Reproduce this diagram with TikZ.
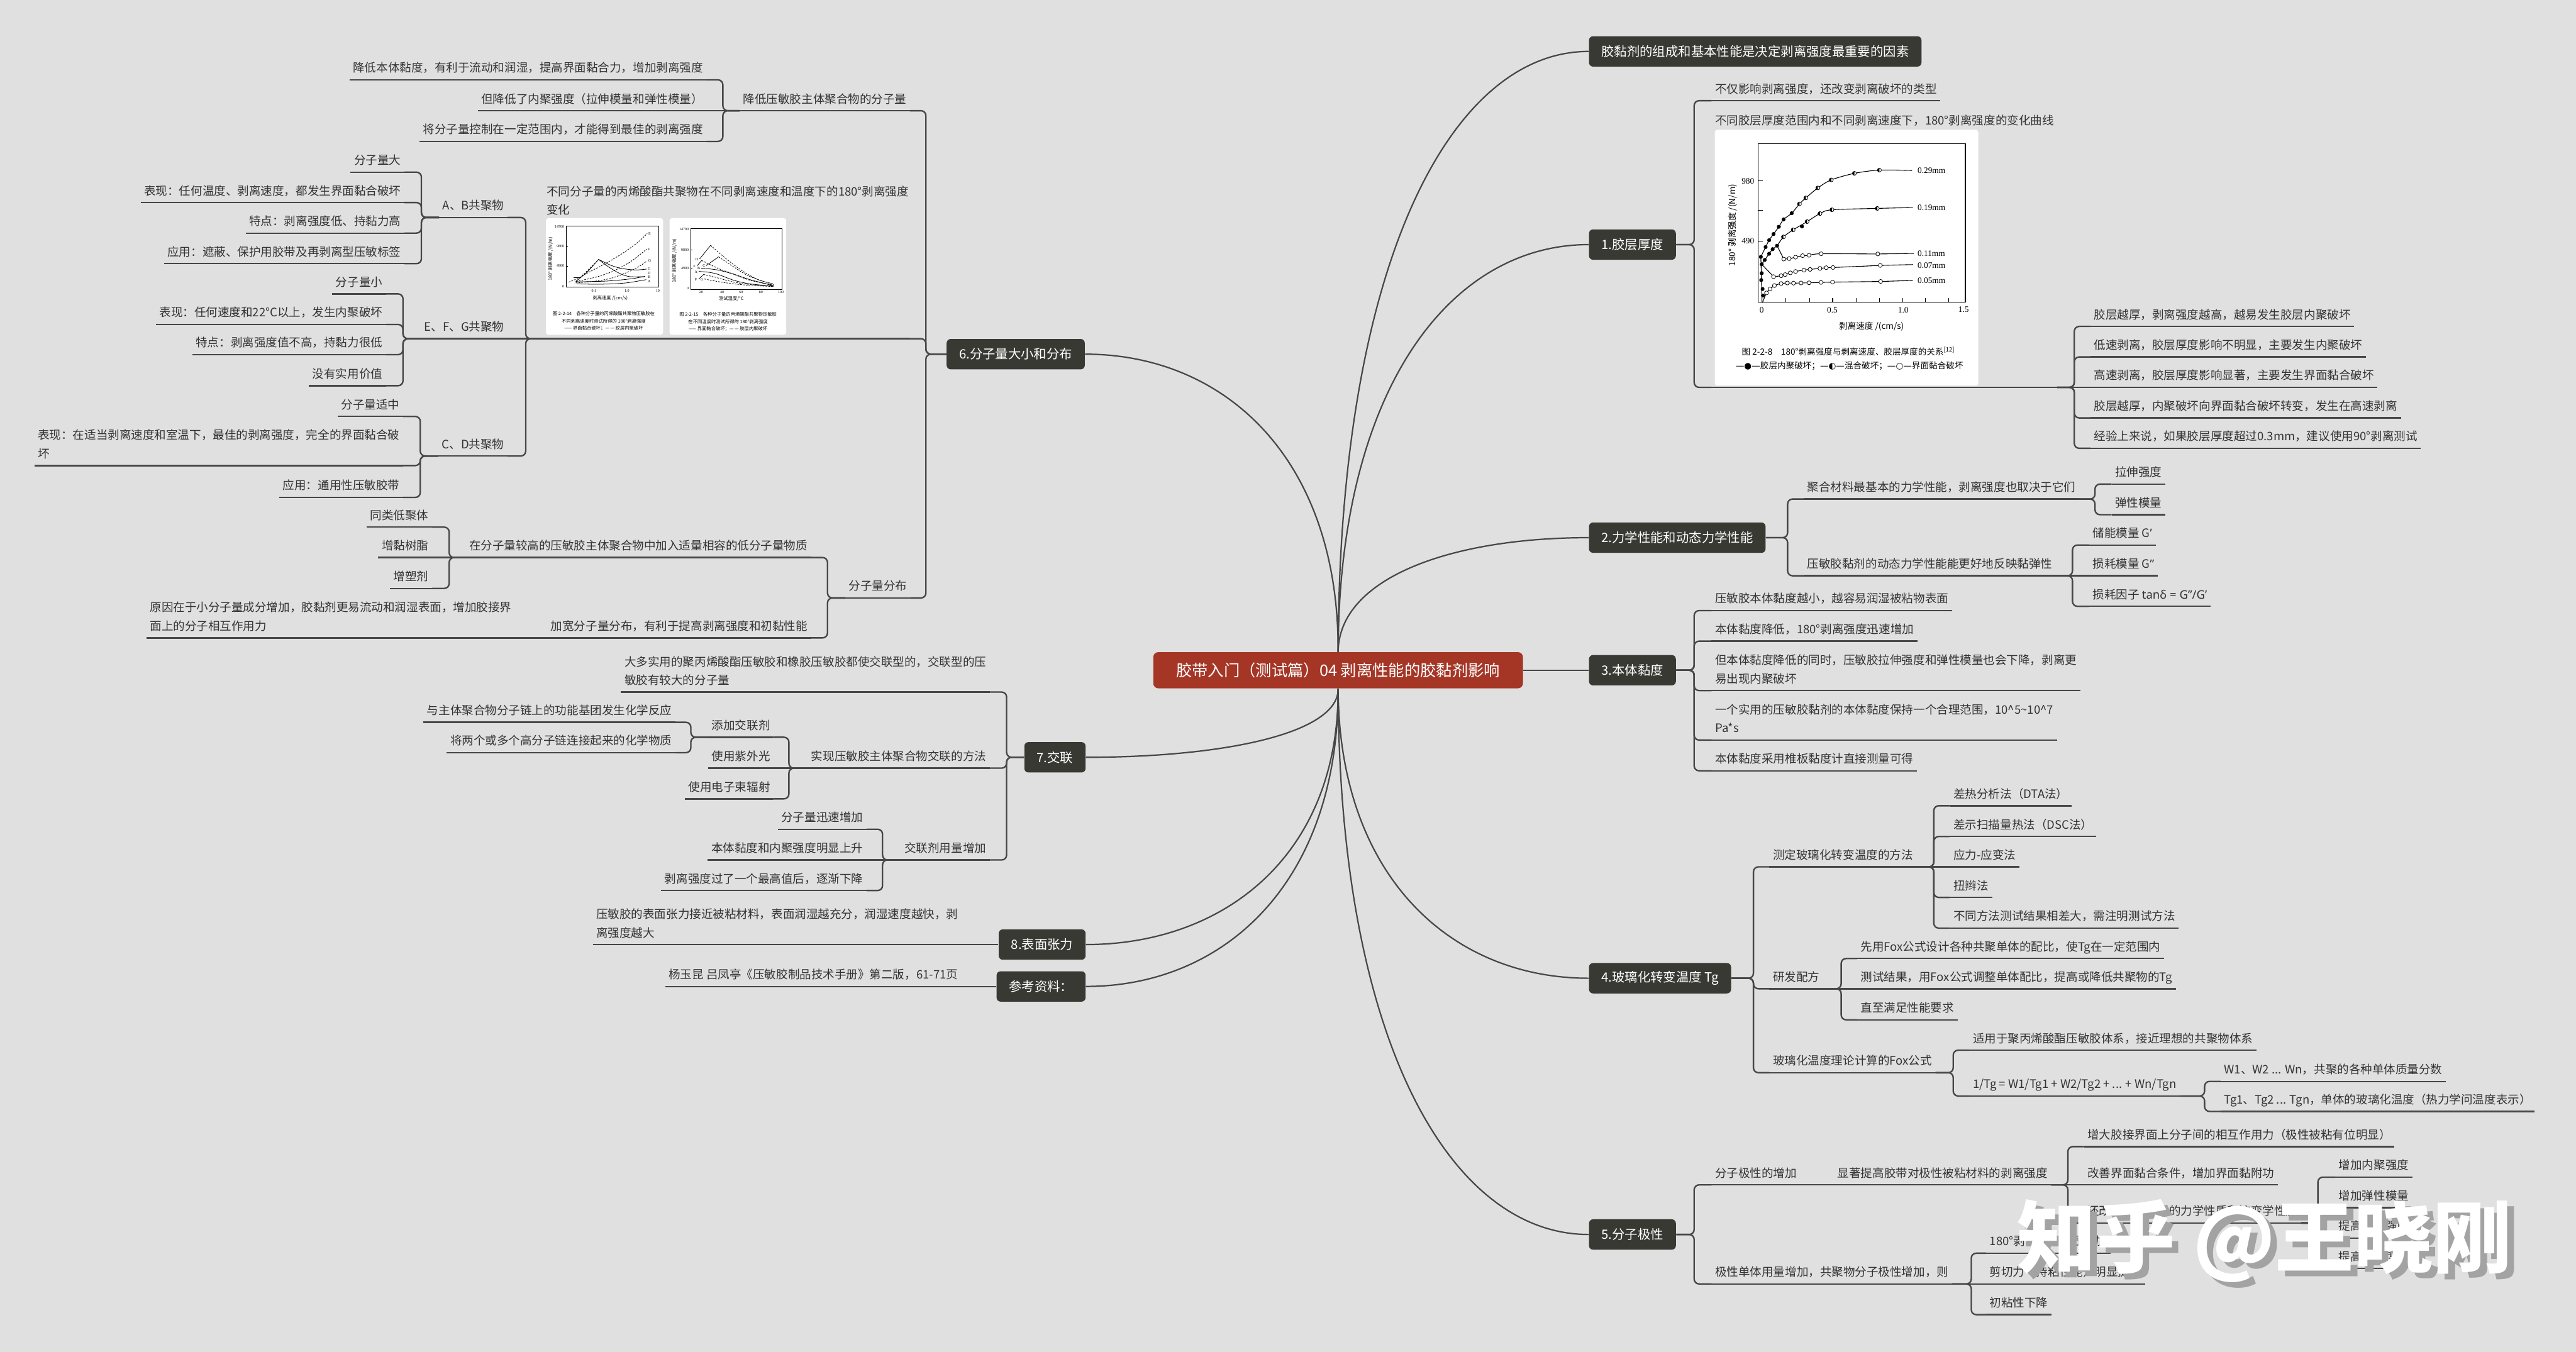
\documentclass[tikz,border=0pt]{standalone}
\usepackage{fontspec}
\setmainfont{Noto Sans CJK SC}
\newfontfamily\lat{Noto Sans}
\newfontfamily\sym{DejaVu Sans}
\newfontfamily\chartserif{Liberation Serif}
\definecolor{bgcol}{HTML}{E0E0E0}
\definecolor{inkgray}{HTML}{333333}
\definecolor{linegray}{HTML}{474747}
\definecolor{boxdark}{HTML}{393934}
\definecolor{rootred}{HTML}{A53626}
\definecolor{wmshade}{HTML}{A3A3A3}
\tikzset{topictext/.style={font=\fontsize{7.1}{11.3}\selectfont, text=inkgray, inner xsep=2pt, inner ysep=2.6pt, align=left},
 uline/.style={draw=linegray, line width=0.9pt},
 topic/.style={topictext, execute at end node={\rule[-1.8pt]{0pt}{1.8pt}}, append after command={(\tikzlastnode.south west) edge[uline] (\tikzlastnode.south east)}},
 rtopic/.style={topic, anchor=south west}, ltopic/.style={topic, anchor=south east},
 imgtopic/.style={inner sep=0pt, append after command={(\tikzlastnode.south west) edge[uline] (\tikzlastnode.south east)}},
 conn/.style={draw=linegray, line width=0.9pt, rounded corners=3pt},
 branch/.style={draw=linegray, line width=0.85pt},
 mainbox/.style={fill=boxdark, text=white, rounded corners=2.5pt, font=\fontsize{7.8}{9}\selectfont, inner xsep=7.6pt, inner ysep=0pt, minimum height=18.5pt},
 rootbox/.style={fill=rootred, text=white, rounded corners=3pt, font=\fontsize{9.7}{11}\selectfont, minimum width=225pt, minimum height=22pt, inner sep=0pt},
 pln/.style={draw=black, line width=0.42pt}, sln/.style={draw=black, line width=0.3pt}, sdash/.style={sln, dash pattern=on 1pt off 0.7pt},
 cnum/.style={font=\chartserif\fontsize{5.1}{6}\selectfont, inner sep=0.5pt}, ctxt/.style={font=\fontsize{5.2}{6}\selectfont, inner sep=0.5pt},
 snum/.style={font=\chartserif\fontsize{2.3}{3}\selectfont, inner sep=0.3pt}, stxt/.style={font=\fontsize{2.8}{3.2}\selectfont, inner sep=0.3pt},
 wmark/.style={font=\fontsize{48}{50}\selectfont\bfseries, inner sep=0pt}}
\begin{document}
\begin{tikzpicture}[x=1pt,y=-1pt]
\useasboundingbox (0,0) rectangle (1568,823);
\fill[bgcol] (0,0) rectangle (1568,823);
% centre and main branches
\node[rootbox] (root) at (814.5,408) {胶带入门（测试篇）04 剥离性能的胶黏剂影响};
\node[mainbox, anchor=west] (b0) at (967,31.3) {胶黏剂的组成和基本性能是决定剥离强度最重要的因素};
\node[mainbox, anchor=west] (b1) at (967,148.9) {1.胶层厚度};
\node[mainbox, anchor=west] (b2) at (967,327.3) {2.力学性能和动态力学性能};
\node[mainbox, anchor=west] (b3) at (967,408) {3.本体黏度};
\node[mainbox, anchor=west] (b4) at (967,595.5) {4.玻璃化转变温度 Tg};
\node[mainbox, anchor=west] (b5) at (967,751.5) {5.分子极性};
\node[mainbox, anchor=east] (b6) at (660.5,215.6) {6.分子量大小和分布};
\node[mainbox, anchor=east] (b7) at (661,461) {7.交联};
\node[mainbox, anchor=east] (b8) at (661,575) {8.表面张力};
\node[mainbox, anchor=east] (bref) at (661,600.5) {参考资料：};
\draw[branch] (root.north) .. controls (815,159.3) and (883.4,31.3) .. (b0.west);
\draw[branch] (root.north) .. controls (815,235.7) and (883.4,148.9) .. (b1.west);
\draw[branch] (root.north) .. controls (815,351.7) and (883.4,327.3) .. (b2.west);
\draw[branch] (root.east) -- (b3.west);
\draw[branch] (root.south) .. controls (815,533.7) and (883.4,595.5) .. (b4.west);
\draw[branch] (root.south) .. controls (815,635.1) and (883.4,751.5) .. (b5.west);
\draw[branch] (root.north) .. controls (815,279.1) and (745.5,215.6) .. (b6.east);
\draw[branch] (root.south) .. controls (815,446.3) and (745.5,461) .. (b7.east);
\draw[branch] (root.south) .. controls (815,520.4) and (745.5,575) .. (b8.east);
\draw[branch] (root.south) .. controls (815,537) and (745.5,600.5) .. (bref.east);
% bracket columns
\coordinate (k1) at (1031.2,0); \coordinate (k12) at (1262.6,0); \coordinate (k2) at (1088.1,0);
\coordinate (k21) at (1275.2,0); \coordinate (k22) at (1261.5,0); \coordinate (k3) at (1031.2,0);
\coordinate (k4) at (1067.3,0); \coordinate (k41) at (1177.1,0); \coordinate (k42) at (1120.7,0);
\coordinate (k43) at (1188.9,0); \coordinate (k432) at (1341.9,0); \coordinate (k5) at (1031.2,0);
\coordinate (k511) at (1258.7,0); \coordinate (k5113) at (1410.9,0); \coordinate (k52) at (1199.9,0);
\coordinate (k6) at (563.6,0); \coordinate (k61) at (440,0); \coordinate (k62) at (320,0);
\coordinate (k621) at (256.5,0); \coordinate (k622) at (245.3,0); \coordinate (k623) at (255.8,0);
\coordinate (k63) at (503.7,0); \coordinate (k631) at (273.4,0); \coordinate (k7) at (612.7,0);
\coordinate (k72) at (480.2,0); \coordinate (k721) at (420.5,0); \coordinate (k73) at (537.2,0);
% 1
\node[rtopic] (t11) at (1041.8,61.3) {不仅影响剥离强度，还改变剥离破坏的类型};
\node[imgtopic, anchor=south west, minimum width=209.9pt, minimum height=169.8pt] (t12) at (1041.8,235.8) {};
\node[topictext, anchor=base west] (t12l) at (1041.8,76) {不同胶层厚度范围内和不同剥离速度下，180°剥离强度的变化曲线};
\node[rtopic] (t121) at (1272.4,198.7) {胶层越厚，剥离强度越高，越易发生胶层内聚破坏};
\node[rtopic] (t122) at (1272.4,217.3) {低速剥离，胶层厚度影响不明显，主要发生内聚破坏};
\node[rtopic] (t123) at (1272.4,235.8) {高速剥离，胶层厚度影响显著，主要发生界面黏合破坏};
\node[rtopic] (t124) at (1272.4,254.4) {胶层越厚，内聚破坏向界面黏合破坏转变，发生在高速剥离};
\node[rtopic] (t125) at (1272.4,272.9) {经验上来说，如果胶层厚度超过0.3mm，建议使用90°剥离测试};
% 2
\node[rtopic] (t21) at (1097.9,303.8) {聚合材料最基本的力学性能，剥离强度也取决于它们};
\node[rtopic] (t211) at (1285.3,294.7) {拉伸强度};
\node[rtopic] (t212) at (1285.3,313.3) {弹性模量};
\node[rtopic] (t22) at (1097.9,350.5) {压敏胶黏剂的动态力学性能能更好地反映黏弹性};
\node[rtopic] (t221) at (1271.6,331.8) {储能模量 G{\lat ’}};
\node[rtopic] (t222) at (1271.6,350.5) {损耗模量 G{\lat ”}};
\node[rtopic] (t223) at (1271.6,369.1) {损耗因子 {\lat tanδ = G”/G’}};
% 3
\node[rtopic] (t31) at (1041.8,371.7) {压敏胶本体黏度越小，越容易润湿被粘物表面};
\node[rtopic] (t32) at (1041.8,390.3) {本体黏度降低，180°剥离强度迅速增加};
\node[rtopic] (t33) at (1041.8,420.4) {但本体黏度降低的同时，压敏胶拉伸强度和弹性模量也会下降，剥离更\\易出现内聚破坏};
\node[rtopic] (t34) at (1041.8,450.5) {一个实用的压敏胶黏剂的本体黏度保持一个合理范围，10\textasciicircum 5\textasciitilde 10\textasciicircum 7\\Pa*s};
\node[rtopic] (t35) at (1041.8,469.2) {本体黏度采用椎板黏度计直接测量可得};
% 4
\node[rtopic] (t41) at (1077,527.7) {测定玻璃化转变温度的方法};
\node[rtopic] (t411) at (1186.9,490.5) {差热分析法（DTA法）};
\node[rtopic] (t412) at (1186.9,509.2) {差示扫描量热法（DSC法）};
\node[rtopic] (t413) at (1186.9,527.7) {应力-应变法};
\node[rtopic] (t414) at (1186.9,546.3) {扭辫法};
\node[rtopic] (t415) at (1186.9,565) {不同方法测试结果相差大，需注明测试方法};
\node[rtopic] (t42) at (1077,601.9) {研发配方};
\node[rtopic] (t421) at (1130.4,583.5) {先用Fox公式设计各种共聚单体的配比，使Tg在一定范围内};
\node[rtopic] (t422) at (1130.4,601.9) {测试结果，用Fox公式调整单体配比，提高或降低共聚物的Tg};
\node[rtopic] (t423) at (1130.4,620.8) {直至满足性能要求};
\node[rtopic] (t43) at (1077,653) {玻璃化温度理论计算的Fox公式};
\node[rtopic] (t431) at (1198.7,639.3) {适用于聚丙烯酸酯压敏胶体系，接近理想的共聚物体系};
\node[rtopic] (t432) at (1198.7,667.2) {1/Tg = W1/Tg1 + W2/Tg2 + ... + Wn/Tgn};
\node[rtopic] (t4321) at (1351.6,658.3) {W1、W2 ... Wn，共聚的各种单体质量分数};
\node[rtopic] (t4322) at (1351.6,676.6) {Tg1、Tg2 ... Tgn，单体的玻璃化温度（热力学问温度表示）};
% 5
\node[rtopic] (t51) at (1041.8,721.3) {分子极性的增加};
\node[rtopic] (t511) at (1116.3,721.3) {显著提高胶带对极性被粘材料的剥离强度};
\node[rtopic] (t5111) at (1268.5,698) {增大胶接界面上分子间的相互作用力（极性被粘有位明显）};
\node[rtopic] (t5112) at (1268.5,721.3) {改善界面黏合条件，增加界面黏附功};
\node[rtopic] (t5113) at (1268.5,744.5) {还改变压敏胶层的力学性质和流变学性质};
\node[rtopic] (t51131) at (1421.4,716.6) {增加内聚强度};
\node[rtopic] (t51132) at (1421.4,735.2) {增加弹性模量};
\node[rtopic] (t51133) at (1421.4,753.7) {提高剥离强度};
\node[rtopic] (t51134) at (1421.4,772.2) {提高持黏度};
\node[rtopic] (t52) at (1041.8,781.6) {极性单体用量增加，共聚物分子极性增加，则};
\node[rtopic] (t521) at (1208.9,762.9) {180°剥离强度明显增加};
\node[rtopic] (t522) at (1208.9,781.6) {剪切力（持粘性能）明显提高};
\node[rtopic] (t523) at (1208.9,800.3) {初粘性下降};
% 6
\node[ltopic] (t61) at (554,67.4) {降低压敏胶主体聚合物的分子量};
\node[ltopic] (t611) at (430.1,48.6) {降低本体黏度，有利于流动和润湿，提高界面黏合力，增加剥离强度};
\node[ltopic] (t612) at (430.1,67.4) {但降低了内聚强度（拉伸模量和弹性模量）};
\node[ltopic] (t613) at (430.1,86.1) {将分子量控制在一定范围内，才能得到最佳的剥离强度};
\node[imgtopic, anchor=south east, minimum width=223.4pt, minimum height=97pt] (t62) at (554,206.2) {};
\node[topictext, anchor=north west] (t62l) at (330.6,110) {\rule{0pt}{6.3pt}不同分子量的丙烯酸酯共聚物在不同剥离速度和温度下的180°剥离强度\\变化};
\node[ltopic] (t621) at (309,132.4) {A、B共聚物};
\node[ltopic] (t622) at (309,206.2) {E、F、G共聚物};
\node[ltopic] (t623) at (309,277.6) {C、D共聚物};
\node[ltopic] (t6211) at (246.2,104.8) {分子量大};
\node[ltopic] (t6212) at (246.2,123.3) {表现：任何温度、剥离速度，都发生界面黏合破坏};
\node[ltopic] (t6213) at (246.2,141.9) {特点：剥离强度低、持黏力高};
\node[ltopic] (t6214) at (246.2,160.5) {应用：遮蔽、保护用胶带及再剥离型压敏标签};
\node[ltopic] (t6221) at (235,178.9) {分子量小};
\node[ltopic] (t6222) at (235,197.5) {表现：任何速度和22°C以上，发生内聚破坏};
\node[ltopic] (t6223) at (235,215.9) {特点：剥离强度值不高，持黏力很低};
\node[ltopic] (t6224) at (235,234.8) {没有实用价值};
\node[ltopic] (t6231) at (245.4,253.5) {分子量适中};
\node[ltopic] (t6232) at (245.4,283.4) {表现：在适当剥离速度和室温下，最佳的剥离强度，完全的界面黏合破\\坏};
\node[ltopic] (t6233) at (245.4,302.8) {应用：通用性压敏胶带};
\node[ltopic] (t63) at (554.4,364) {分子量分布};
\node[ltopic] (t631) at (493.7,339.4) {在分子量较高的压敏胶主体聚合物中加入适量相容的低分子量物质};
\node[ltopic] (t6311) at (263,320.9) {同类低聚体};
\node[ltopic] (t6312) at (263,339.4) {增黏树脂};
\node[ltopic] (t6313) at (263,358.2) {增塑剂};
\node[ltopic] (t632) at (493.7,388.3) {加宽分子量分布，有利于提高剥离强度和初黏性能};
\node[ltopic] (t6321) at (313.6,388.3) {原因在于小分子量成分增加，胶黏剂更易流动和润湿表面，增加胶接界\\面上的分子相互作用力};
% 7, 8, ref
\node[ltopic] (t71) at (602.5,421.3) {大多实用的聚丙烯酸酯压敏胶和橡胶压敏胶都使交联型的，交联型的压\\敏胶有较大的分子量};
\node[ltopic] (t72) at (602.5,467.6) {实现压敏胶主体聚合物交联的方法};
\node[ltopic] (t721) at (471,448.8) {添加交联剂};
\node[ltopic] (t7211) at (411.2,439.7) {与主体聚合物分子链上的功能基团发生化学反应};
\node[ltopic] (t7212) at (411.2,458.2) {将两个或多个高分子链连接起来的化学物质};
\node[ltopic] (t722) at (471,467.6) {使用紫外光};
\node[ltopic] (t723) at (471,486.3) {使用电子束辐射};
\node[ltopic] (t73) at (602.5,523.5) {交联剂用量增加};
\node[ltopic] (t731) at (527.5,504.8) {分子量迅速增加};
\node[ltopic] (t732) at (527.5,523.5) {本体黏度和内聚强度明显上升};
\node[ltopic] (t733) at (527.5,542.1) {剥离强度过了一个最高值后，逐渐下降};
\node[ltopic] (t81) at (585.3,575) {压敏胶的表面张力接近被粘材料，表面润湿越充分，润湿速度越快，剥\\离强度越大};
\node[ltopic] (t91) at (585.3,600.5) {杨玉昆 吕凤亭《压敏胶制品技术手册》第二版，61-71页};
% connectors, right side
\foreach \c in {t11,t12} \draw[conn] (b1.east) -- (b1.east -| k1) |- (\c.south west);
\draw[conn] (t12.south east) -- (t123.south west);
\foreach \c in {t121,t122,t124,t125} \draw[conn] (t12.south east) -- (t12.south east -| k12) |- (\c.south west);
\foreach \c in {t21,t22} \draw[conn] (b2.east) -- (b2.east -| k2) |- (\c.south west);
\foreach \c in {t211,t212} \draw[conn] (t21.south east) -- (t21.south east -| k21) |- (\c.south west);
\draw[conn] (t22.south east) -- (t222.south west);
\foreach \c in {t221,t223} \draw[conn] (t22.south east) -- (t22.south east -| k22) |- (\c.south west);
\foreach \c in {t31,t32,t33,t34,t35} \draw[conn] (b3.east) -- (b3.east -| k3) |- (\c.south west);
\foreach \c in {t41,t42,t43} \draw[conn] (b4.east) -- (b4.east -| k4) |- (\c.south west);
\draw[conn] (t41.south east) -- (t413.south west);
\foreach \c in {t411,t412,t414,t415} \draw[conn] (t41.south east) -- (t41.south east -| k41) |- (\c.south west);
\draw[conn] (t42.south east) -- (t422.south west);
\foreach \c in {t421,t423} \draw[conn] (t42.south east) -- (t42.south east -| k42) |- (\c.south west);
\foreach \c in {t431,t432} \draw[conn] (t43.south east) -- (t43.south east -| k43) |- (\c.south west);
\foreach \c in {t4321,t4322} \draw[conn] (t432.south east) -- (t432.south east -| k432) |- (\c.south west);
\foreach \c in {t51,t52} \draw[conn] (b5.east) -- (b5.east -| k5) |- (\c.south west);
\draw[conn] (t51.south east) -- (t511.south west);
\draw[conn] (t511.south east) -- (t5112.south west);
\foreach \c in {t5111,t5113} \draw[conn] (t511.south east) -- (t511.south east -| k511) |- (\c.south west);
\foreach \c in {t51131,t51132,t51133,t51134} \draw[conn] (t5113.south east) -- (t5113.south east -| k5113) |- (\c.south west);
\draw[conn] (t52.south east) -- (t522.south west);
\foreach \c in {t521,t523} \draw[conn] (t52.south east) -- (t52.south east -| k52) |- (\c.south west);
% connectors, left side
\foreach \c in {t61,t62,t63} \draw[conn] (b6.west) -- (b6.west -| k6) |- (\c.south east);
\draw[conn] (t61.south west) -- (t612.south east);
\foreach \c in {t611,t613} \draw[conn] (t61.south west) -- (t61.south west -| k61) |- (\c.south east);
\draw[conn] (t62.south west) -- (t622.south east);
\foreach \c in {t621,t623} \draw[conn] (t62.south west) -- (t62.south west -| k62) |- (\c.south east);
\foreach \c in {t6211,t6212,t6213,t6214} \draw[conn] (t621.south west) -- (t621.south west -| k621) |- (\c.south east);
\foreach \c in {t6221,t6222,t6223,t6224} \draw[conn] (t622.south west) -- (t622.south west -| k622) |- (\c.south east);
\foreach \c in {t6231,t6232,t6233} \draw[conn] (t623.south west) -- (t623.south west -| k623) |- (\c.south east);
\foreach \c in {t631,t632} \draw[conn] (t63.south west) -- (t63.south west -| k63) |- (\c.south east);
\draw[conn] (t631.south west) -- (t6312.south east);
\foreach \c in {t6311,t6313} \draw[conn] (t631.south west) -- (t631.south west -| k631) |- (\c.south east);
\draw[conn] (t632.south west) -- (t6321.south east);
\foreach \c in {t71,t72,t73} \draw[conn] (b7.west) -- (b7.west -| k7) |- (\c.south east);
\draw[conn] (t72.south west) -- (t722.south east);
\foreach \c in {t721,t723} \draw[conn] (t72.south west) -- (t72.south west -| k72) |- (\c.south east);
\foreach \c in {t7211,t7212} \draw[conn] (t721.south west) -- (t721.south west -| k721) |- (\c.south east);
\draw[conn] (t73.south west) -- (t732.south east);
\foreach \c in {t731,t733} \draw[conn] (t73.south west) -- (t73.south west -| k73) |- (\c.south east);
\draw[conn] (b8.west) -- (t81.south east);
\draw[conn] (bref.west) -- (t91.south east);
% chart of topic 1
\begin{scope}[shift={(1041.4pt,-75.3pt)}, x=0.1074pt, y=-0.1046pt]
\fill[white, rounded corners=1.5pt] (22,35) rectangle (1515,1525);
\draw[pln] (268,115) rectangle (1442,1040);
\foreach \u in {425,560,690,825,957,1087,1217,1347} \draw[pln] (\u,1040) -- (\u,1015);
\foreach \v in {333,505,683} \draw[pln] (268,\v) -- (295,\v);
\node[cnum, anchor=east] (c1y1) at (252,333) {980};
\node[cnum, anchor=east] (c1y2) at (252,683) {490};
\node[cnum] (c1x1) at (288,1085) {0};
\node[cnum] (c1x2) at (688,1085) {0.5};
\node[cnum] (c1x3) at (1090,1085) {1.0};
\node[cnum] (c1x4) at (1432,1080) {1.5};
\node[ctxt, rotate=90] (c1yl) at (125,590) {180° 剥离强度 /(N/m)};
\node[ctxt] (c1xl) at (910,1178) {剥离速度 /(cm/s)};
\node[ctxt] (c1cap) at (780,1325) {图 2-2-8\quad 180°剥离强度与剥离速度、胶层厚度的关系\textsuperscript{[12]}};
\node[ctxt] (c1leg) at (785,1410) {{\sym —●—}胶层内聚破坏；{\sym —◐—}混合破坏；{\sym —○—}界面黏合破坏};
\foreach \v/\t in {272/0.29mm,490/0.19mm,757/0.11mm,825/0.07mm,912/0.05mm} \node[cnum, anchor=west] (c1l\v) at (1165,\v) {\t};
\draw[pln] (290,1040) -- (283,775);
\draw[pln] plot[smooth] coordinates {(283,775) (310,718) (330,678) (355,642) (385,600) (412,557) (458,521) (502,467) (538,432) (606,374) (682,327) (813,289) (955,270) (1140,272)};
\draw[pln] plot[smooth] coordinates {(288,818) (305,793) (330,757) (350,730) (375,710) (411,659) (466,618) (545,570) (618,523) (686,501) (943,493) (1145,488)};
\draw[pln] (375,710) -- (413,788);
\draw[pln] plot[smooth] coordinates {(413,788) (444,785) (480,777) (520,768) (556,766) (625,757) (946,758) (1150,755)};
\draw[pln] (288,818) -- (355,890);
\draw[pln] plot[smooth] coordinates {(355,890) (398,885) (421,878) (450,868) (480,860) (527,852) (562,848) (618,842) (654,838) (692,837) (960,825) (1145,820)};
\draw[pln] plot[smooth] coordinates {(292,1042) (315,985) (335,962) (360,942) (398,930) (433,927) (468,928) (511,927) (556,926) (624,924) (689,922) (962,918) (1145,912)};
\foreach \u/\v in {283/775,310/718,330/678,355/642,385/600,412/557,458/521,305/793,330/757,350/730,375/710,516/598,288/818,288/870,285/910,293/962,295/1000}
  \fill (\u,\v) circle (1.2pt);
\foreach \u/\v in {413/788,444/785,480/777,520/768,556/766,625/757,946/758,355/890,398/885,421/878,450/868,480/860,527/852,562/848,618/842,654/838,692/837,960/825,315/985,335/962,360/942,398/930,433/927,468/928,511/927,556/926,624/924,689/922,962/918}
  \filldraw[fill=white, draw=black, line width=0.3pt] (\u,\v) circle (1.2pt);
\foreach \u/\v in {502/467,538/432,606/374,682/327,813/289,955/270,411/659,466/618,545/570,618/523,686/501,943/493} {
  \filldraw[fill=white, draw=black, line width=0.3pt] (\u,\v) circle (1.2pt);
  \fill (\u,\v) ++(0pt,1.2pt) arc[start angle=90, end angle=270, radius=1.2pt] -- cycle;}
\end{scope}
% charts of topic 6
\begin{scope}[shift={(327.9pt,-128.5pt)}, x=0.09892pt, y=-0.07386pt]
\fill[white, rounded corners=1.5pt] (45,58) rectangle (765,1020);
\fill[white, rounded corners=1.5pt] (805,58) rectangle (1523,1020);
\draw[sln] (168,122) rectangle (737,625);
\draw[sln] (935,145) rectangle (1495,645);
\foreach \v in {287,452} \draw[sln] (168,\v) -- (180,\v);
\foreach \v in {320,472} \draw[sln] (935,\v) -- (947,\v);
\foreach \v/\t in {130/14700,287/9800,452/4900,622/0} \node[snum, anchor=east] (c2y\v) at (162,\v) {\t};
\foreach \v/\t in {148/14700,320/9800,472/4900,635/0} \node[snum, anchor=east] (c3y\v) at (928,\v) {\t};
\foreach \u/\t in {340/0.1,543/1.0,733/10} \node[snum] (c2x\u) at (\u,658) {\t};
\foreach \u/\t in {1000/20,1128/40,1245/60,1367/80,1490/100} \node[snum] (c3x\u) at (\u,667) {\t};
\node[stxt, rotate=90] (c2yl) at (72,395) {180° 剥离强度 /(N/m)};
\node[stxt, rotate=90] (c3yl) at (835,410) {180° 剥离强度 /(N/m)};
\node[stxt] (c2xl) at (440,715) {剥离速度 /(cm/s)};
\node[stxt] (c3xl) at (1185,720) {测试温度/°C};
\node[stxt] (c2c1) at (400,845) {图 2-2-14\quad 各种分子量的丙烯酸酯共聚物压敏胶在};
\node[stxt] (c2c2) at (400,907) {不同剥离速度时测试所得的 180°剥离强度};
\node[stxt] (c2lg) at (400,967) {—— 界面黏合破坏；— — 胶层内聚破坏};
\node[stxt] (c3c1) at (1165,848) {图 2-2-15\quad 各种分子量的丙烯酸酯共聚物压敏胶};
\node[stxt] (c3c2) at (1165,912) {在不同温度时测试所得的 180°剥离强度};
\node[stxt] (c3lg) at (1165,972) {—— 界面黏合破坏；— — 胶层内聚破坏};
\draw[sdash] plot[smooth] coordinates {(185,585) (240,555) (300,510) (400,440) (500,362) (600,268) (668,185)};
\draw[sdash] plot[smooth] coordinates {(230,580) (350,545) (450,500) (550,430) (620,362) (665,312)};
\draw[sdash] plot[smooth] coordinates {(228,592) (350,577) (450,552) (550,502) (620,455) (665,412)};
\draw[sln] plot[smooth] coordinates {(230,578) (300,500) (368,398)};
\draw[sln] plot[smooth] coordinates {(368,398) (450,450) (520,475) (600,485) (665,478)};
\draw[sdash] plot[smooth] coordinates {(228,582) (300,490) (365,405)};
\draw[sln] plot[smooth] coordinates {(368,398) (430,460) (500,515) (560,540) (655,540)};
\draw[sln] (213,550) -- (262,550);
\draw[sln] plot[smooth] coordinates {(230,583) (400,578) (500,568) (580,556) (655,538)};
\draw[sln] plot[smooth] coordinates {(233,600) (350,603) (450,600) (550,590) (662,565)};
\foreach \u/\v/\t in {683/187/E,678/313/F,683/410/G,680/478/C,680/512/D,680/545/B,680/578/A} \node[snum] (c2l\t) at (\u,\v) {\t};
\draw[sln] (990,395) -- (1058,282);
\draw[sdash] plot[smooth] coordinates {(1058,282) (1150,390) (1250,490) (1350,565) (1445,600)};
\draw[sln] (1030,450) -- (1107,377);
\draw[sdash] plot[smooth] coordinates {(1107,377) (1200,460) (1300,540) (1445,605)};
\draw[sln] (975,450) -- (1003,407);
\draw[sdash] plot[smooth] coordinates {(1003,407) (1100,470) (1200,520) (1300,570) (1445,610)};
\draw[sln] plot[smooth] coordinates {(1000,470) (1100,485) (1200,520) (1300,565) (1445,615)};
\draw[sln] plot[smooth] coordinates {(985,497) (1050,505) (1100,520) (1200,570) (1300,600) (1445,618)};
\draw[sln] (985,560) -- (1015,522);
\draw[sdash] plot[smooth] coordinates {(1015,522) (1100,550) (1200,585) (1300,605) (1445,620)};
\draw[sdash] plot[smooth] coordinates {(1020,560) (1100,580) (1200,600) (1300,612) (1445,622)};
\foreach \u/\v/\t in {973/397/D,958/455/E,1017/450/C,985/470/B,968/500/A,967/563/F,1005/563/G} \node[snum] (c3l\t) at (\u,\v) {\t};
\end{scope}
% watermark
\node[wmark, text=wmshade] (wms) at (1382.5,759) {知乎 @王晓刚};
\node[wmark, text=white] (wm) at (1378.5,755.5) {知乎 @王晓刚};
\end{tikzpicture}
\end{document}
